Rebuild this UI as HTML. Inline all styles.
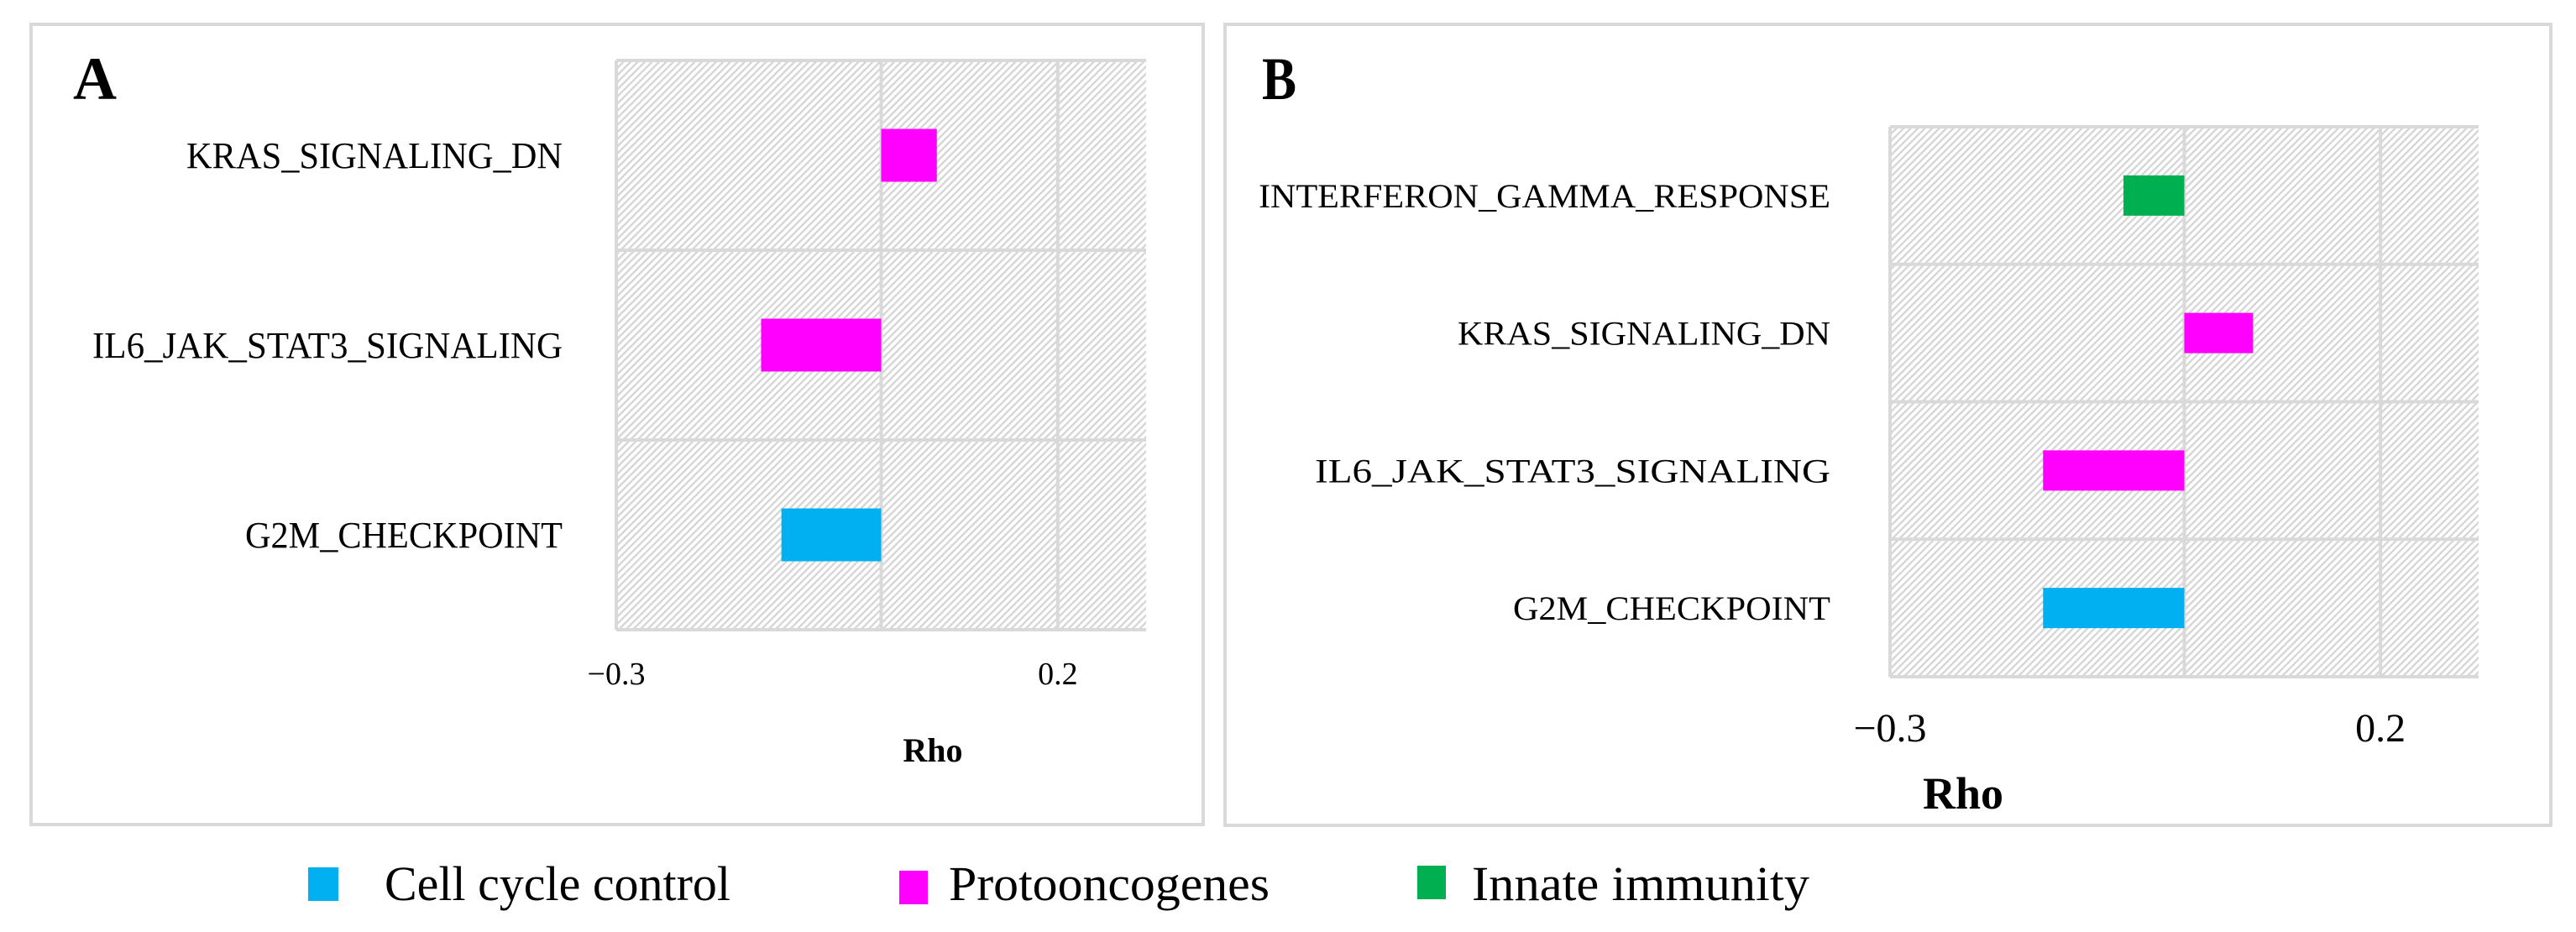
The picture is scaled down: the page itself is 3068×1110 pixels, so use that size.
<!DOCTYPE html>
<html><head><meta charset="utf-8"><style>
html,body{margin:0;padding:0;background:#fff;}
svg{display:block;font-family:"Liberation Serif",serif;}
</style></head><body>
<svg id="chart" width="3068" height="1110" viewBox="0 0 3068 1110" xmlns="http://www.w3.org/2000/svg">
<defs>
<pattern id="hatch" width="6" height="6" patternUnits="userSpaceOnUse" patternTransform="rotate(45)">
<rect width="6" height="6" fill="#ffffff"/>
<rect x="0" y="0" width="2.4" height="6" fill="#d6d6d6"/>
</pattern>
</defs>
<rect x="37" y="29" width="1396" height="953" fill="#fff" stroke="#d9d9d9" stroke-width="4"/>
<rect x="1459" y="29" width="1579" height="954" fill="#fff" stroke="#d9d9d9" stroke-width="4"/>
<text x="87" y="118" font-size="72" font-weight="bold">A</text>
<text x="1503" y="118" font-size="72" font-weight="bold" textLength="41" lengthAdjust="spacingAndGlyphs">B</text>
<g id="panelA"></g>
<g id="panelB"></g>
<g>
<g>
<rect x="367" y="1033" width="36" height="40" fill="#00b0f0"/>
<text x="458" y="1072" font-size="58" textLength="412" lengthAdjust="spacingAndGlyphs">Cell cycle control</text>
</g>
<g>
<rect x="1071" y="1037" width="34" height="40" fill="#ff00ff"/>
<text x="1130" y="1072" font-size="58" textLength="382" lengthAdjust="spacingAndGlyphs">Protooncogenes</text>
</g>
<g>
<rect x="1688" y="1031" width="34" height="40" fill="#00b050"/>
<text x="1753" y="1072" font-size="58" textLength="402" lengthAdjust="spacingAndGlyphs">Innate immunity</text>
</g>
</g>
</svg>
<script>
const catsA = ["KRAS_SIGNALING_DN","IL6_JAK_STAT3_SIGNALING","G2M_CHECKPOINT"];
const valsA = [0.063,-0.136,-0.113];
const colsA = ["#ff00ff","#ff00ff","#00b0f0"];
const catsB = ["INTERFERON_GAMMA_RESPONSE","KRAS_SIGNALING_DN","IL6_JAK_STAT3_SIGNALING","G2M_CHECKPOINT"];
const valsB = [-0.062,0.07,-0.144,-0.144];
const colsB = ["#00b050","#ff00ff","#ff00ff","#00b0f0"];
const gridVals = [-0.3,0,0.2];
const tickVals = [-0.3,0.2];
const tickLabels = ["\u22120.3","0.2"];
const xMin = -0.3, xMax = 0.3;

const NS = "http://www.w3.org/2000/svg";
function mk(tag, attrs, parent){const e=document.createElementNS(NS,tag);for(const k in attrs)e.setAttribute(k,attrs[k]);parent.appendChild(e);return e;}

function draw(g, cfg, cats, vals, cols){
  const x = v => cfg.left + (v - xMin)/(xMax - xMin)*(cfg.right - cfg.left);
  const n = cats.length, rowH = (cfg.bottom - cfg.top)/n;
  const bg = mk("rect",{x:cfg.left,y:cfg.top,width:cfg.right-cfg.left,height:cfg.bottom-cfg.top,fill:"url(#hatch)"},g);
  
  
  gridVals.forEach(v=>{
    const l=mk("line",{x1:x(v),x2:x(v),y1:cfg.top,y2:cfg.bottom,stroke:"#d9d9d9","stroke-width":4},g);
    
    
  });
  for(let i=0;i<=n;i++){
    const y=cfg.top+i*rowH;
    const l=mk("line",{x1:cfg.left,x2:cfg.right,y1:y,y2:y,stroke:"#d9d9d9","stroke-width":4},g);
    
    
  }
  cats.forEach((c,i)=>{
    const cy=cfg.top+(i+0.5)*rowH;
    const v=vals[i];
    const b=mk("rect",{x:Math.min(x(0),x(v)),y:cy-cfg.barH/2,width:Math.abs(x(v)-x(0)),height:cfg.barH,fill:cols[i]},g);
    
    
    const attrs={x:cfg.labelRight,y:cy+cfg.labelDy,"font-size":cfg.labelFs,"text-anchor":"end"};
    if(cfg.labelW[c]){attrs.textLength=cfg.labelW[c];attrs.lengthAdjust="spacingAndGlyphs";}
    const t=mk("text",attrs,g);
    t.textContent=c;
    
    
  });
  tickVals.forEach((v,i)=>{
    const t=mk("text",{x:x(v),y:cfg.tickY,"font-size":cfg.tickFs,"text-anchor":"middle"},g);
    t.textContent=tickLabels[i];
    
    
  });
  const r=mk("text",{x:cfg.rhoX,y:cfg.rhoY,"font-size":cfg.rhoFs,"font-weight":"bold","text-anchor":"middle"},g);
  r.textContent="Rho";
  
  
}
draw(document.getElementById("panelA"),
  {left:734,right:1365,top:72,bottom:750,barH:63,labelRight:670,labelDy:15,labelFs:44,tickY:815,tickFs:38,rhoX:1111,rhoY:907,rhoFs:40,
   labelW:{"KRAS_SIGNALING_DN":448,"IL6_JAK_STAT3_SIGNALING":560,"G2M_CHECKPOINT":378}},
  catsA,valsA,colsA);
draw(document.getElementById("panelB"),
  {left:2251,right:2952,top:151,bottom:806,barH:48,labelRight:2180,labelDy:14,labelFs:40,tickY:883,tickFs:48,rhoX:2338,rhoY:963,rhoFs:54,
   labelW:{"INTERFERON_GAMMA_RESPONSE":681,"KRAS_SIGNALING_DN":444,"IL6_JAK_STAT3_SIGNALING":614,"G2M_CHECKPOINT":378}},
  catsB,valsB,colsB);
</script>
</body></html>
